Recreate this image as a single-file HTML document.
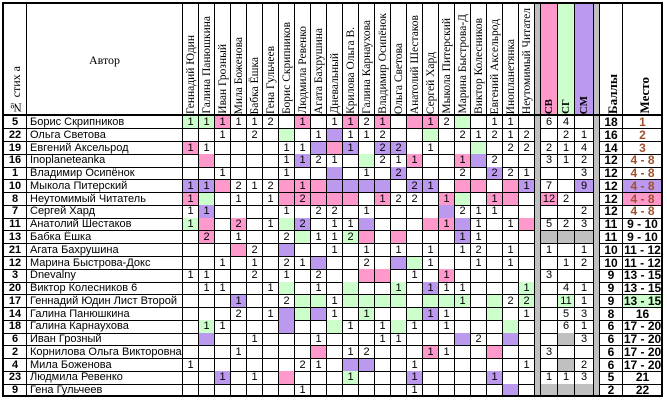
<!DOCTYPE html>
<html><head><meta charset="utf-8">
<style>
body{margin:0;width:667px;height:400px;background:#fff;overflow:hidden;font-family:"Liberation Sans",Arial,sans-serif}
#t{position:absolute;left:0;top:0;width:667px;height:400px}
.c{position:absolute;box-sizing:border-box;border-right:1px solid #000;border-bottom:1px solid #000;font-size:11px;line-height:12px;text-align:center;white-space:nowrap;overflow:hidden}
.v{position:absolute;writing-mode:vertical-rl;transform:rotate(180deg);font-family:"Liberation Serif",serif;font-size:11.5px;white-space:nowrap}
</style></head><body>
<div id="t"></div>
<script>
const judges=["Геннадий Юдин","Галина Панюшкина","Иван Грозный","Мила Боженова","Бабка Ёшка","Гена Гульчеев","Борис Скрипников","Людмила Ревенко","Агата Бахрушина","Дневальный","Крилова Ольга В.","Галина Карнаухова","Владимир Осипёнок","Ольга Светова","Анатолий Шестаков","Сергей Хард","Мыкола Питерский","Марина Быстрова-Д","Виктор Колесников","Евгений Аксельрод","Инопланетянка","Неутомимый Читател"];
const nums=[5,22,19,16,1,10,8,7,11,13,21,12,3,20,17,14,18,6,2,4,23,9];
const authors=["Борис Скрипников","Ольга Светова","Евгений Аксельрод","Inoplaneteanka","Владимир Осипёнок","Мыкола Питерский","Неутомимый Читатель","Сергей Хард","Анатолий Шестаков","Бабка Ёшка","Агата Бахрушина","Марина Быстрова-Докс","Dnevalny","Виктор Колесников 6","Геннадий Юдин Лист Второй","Галина Панюшкина","Галина Карнаухова","Иван Грозный","Корнилова Ольга Викторовна","Мила Боженова","Людмила Ревенко","Гена Гульчеев"];
const grid=[
"1g 1g 1p 1 1 2 . 1p . 1 1p 2 1p . p 1p 2 g . 1 1 .",
". . 1 . 2 . g . 1 v 1 1 2 . . g . 2 1 2 1 2",
"1p 1 . . . . 1 1 v p 1v . 2v 2v . 1 . . g . 2 2",
". p . . . . 1 1v 2 1 . g 2 1 1p . . 1p v 2 . .",
". . 1 . . . 1 . . v . 1 . 2v . . . 2 . 2v 2 1",
"1v 1v p 2 1 2 p 1p p v v v v . 2v 1v . p p . p 1v",
"1p g . 1 . 1 p 2p p p p . 1p 2 2 . 1p g . 1p p .",
"1 1v . . . . 1 . 2 2 . 1 . . . . v 2 1 1 . .",
"1g p . 2p . 1 g 2v . 1 1 v . . . p 1p v 1 . 1 p",
". 2p . 1 . . 2 g 1 1 2g p . p . . . 1v 1 . . .",
". . . p 2 . v . . 1 . 1 . 1 . 1 . 1 2 . 1 .",
". . 1 . 1 . 2 1 v . . 2 . v g 1 . . 1 . 1 .",
"1 1 . . 2 . 1 . 2 . . p p . 1 . 1p . . . . .",
". 1 1 . . 1 g . 1 . g . . 1g . 1v 1 1 . . . 1g",
". . . 1v . . 2 g g 1 g g g g . g g 1g . g 2 2g",
". . . 2 . 1 v g v 1 . 1g . . g 1v 1 . . g . 1",
". 1g 1 . . . v . . g 1 . 1 g 1 . 1 . . . g .",
". v . . 1 . . . 1 . . . 1 1 . . . v 2 . v .",
". . . 1 . . . . p . 1 2 . . . 1p 1 . . p . .",
"1 . . . . . . 2 1 . v v . . 1 . . . . . . 1",
". . 1v . 1 . p . . . 1g . . . 1v . . . . 1v . .",
". . . . . . . 1 . . . . . . 1 . . . . . v ."];
const cb=["6","","2","3","","7","12p","","5","x","1","","3","","","","","","3","","1","x"];
const cg=["4","2","1","1","","","2","","2","x","","1","","4","11g","5","6","x","","x","1","x"];
const cm=["","1","4","2","3","9v","","2","3","x","1","2","","1","1","3","1","3","","2","3","x"];
const points=[18,16,14,12,12,12,12,12,11,11,10,10,9,9,9,8,6,6,6,6,5,2];
const places=["1","2","3","4 - 8","4 - 8","4 - 8","4 - 8","4 - 8","9 - 10","9 - 10","11 - 12","11 - 12","13 - 15","13 - 15","13 - 15","16","17 - 20","17 - 20","17 - 20","17 - 20","21","22"];
const placeBg=["","","","","","v","p","","","","","","","","g","","","","","","",""];

const COL={g:"#ccffcc",p:"#ff99cc",v:"#bb99ee",x:"#c0c0c0"};
const T=document.getElementById('t');
const TOP=116,RH=(397-116)/22;
function rowY(i){return TOP+i*RH;}
function jx(i){return 183+16*i;}
function cell(x,y,w,h,txt,bg,name,extra){
  const d=document.createElement('div');
  d.className='c';
  
  
  d.style.left=x+'px';d.style.top=y+'px';d.style.width=w+'px';d.style.height=h+'px';
  if(bg)d.style.background=bg;
  d.textContent=txt;
  if(extra)Object.assign(d.style,extra);
  T.appendChild(d);return d;
}
function parse(s){if(!s||s===".")return["",""];const m=s.match(/^(\d*)([gpvx]?)$/);return[m[1],m[2]?COL[m[2]]:""];}
cell(4,4,23,112,"","","header-number-cell");
cell(27,4,156,112,"Автор","","header-author",{fontFamily:"Liberation Serif,serif",fontSize:"12px",lineHeight:"112px"});
function vt(x,y,w,h,txt,name,st){
  cell(x,4,w,112,"","",name+"-cell",{});
  const s=document.createElement('div');s.className='v';
  
  
  s.textContent=txt;s.style.left=(x+(w-13)/2)+'px';s.style.bottom=(400-114)+'px';
  if(st&&st.font)s.style.font=st.font;
  T.appendChild(s);
}
vt(4,4,23,112,"№ стих а","header-number",{font:"12px Liberation Serif"});
judges.forEach((j,i)=>vt(jx(i),4,16,112,j,"judge-header"));
cell(535,4,6,393,"",COL.x,"separator");
cell(541,4,17,112,"",COL.p,"cb-header-bg");vt(541,4,17,112,"СВ","cb-header",{font:"bold 11px Liberation Serif"});
cell(558,4,17,112,"",COL.g,"cg-header-bg");vt(558,4,17,112,"СГ","cg-header",{font:"bold 11px Liberation Serif"});
cell(575,4,19,112,"",COL.v,"cm-header-bg");vt(575,4,19,112,"СМ","cm-header",{font:"bold 11px Liberation Serif"});
cell(594,4,6,393,"",COL.x,"separator");
vt(600,4,23,112,"Баллы","points-header",{font:"bold 13px Liberation Serif"});
vt(623,4,40,112,"Место","place-header",{font:"bold 13px Liberation Serif"});
nums.forEach((n,r)=>{
  const y=rowY(r),h=RH+0.5;
  cell(4,y,23,h,String(n),"","poem-number",{fontWeight:"bold"});
  cell(27,y,156,h,authors[r],"","author-name",{textAlign:"left",paddingLeft:"3px"});
  grid[r].split(" ").forEach((s,i)=>{const[v,b]=parse(s);cell(jx(i),y,16,h,v,b,"score-cell");});
  let p=parse(cb[r]);cell(541,y,17,h,p[0],p[1],"cb-cell");
  p=parse(cg[r]);cell(558,y,17,h,p[0],p[1],"cg-cell");
  p=parse(cm[r]);cell(575,y,19,h,p[0],p[1],"cm-cell");
  cell(600,y,23,h,String(points[r]),"","points-cell",{fontWeight:"bold",fontSize:"12px"});
  cell(623,y,40,h,places[r],placeBg[r]?COL[placeBg[r]]:"","place-cell",{fontWeight:"bold",fontSize:"12px",color:r<8?"#a0522d":"#000"});
});
const ob=document.createElement('div');


Object.assign(ob.style,{position:'absolute',left:'2px',top:'2px',width:'661px',height:'395px',border:'2px solid #000',boxSizing:'border-box'});
T.appendChild(ob);
const hb=document.createElement('div');


Object.assign(hb.style,{position:'absolute',left:'2px',top:'114px',width:'661px',height:'2px',background:'#000'});
T.appendChild(hb);
</script>
</body></html>
